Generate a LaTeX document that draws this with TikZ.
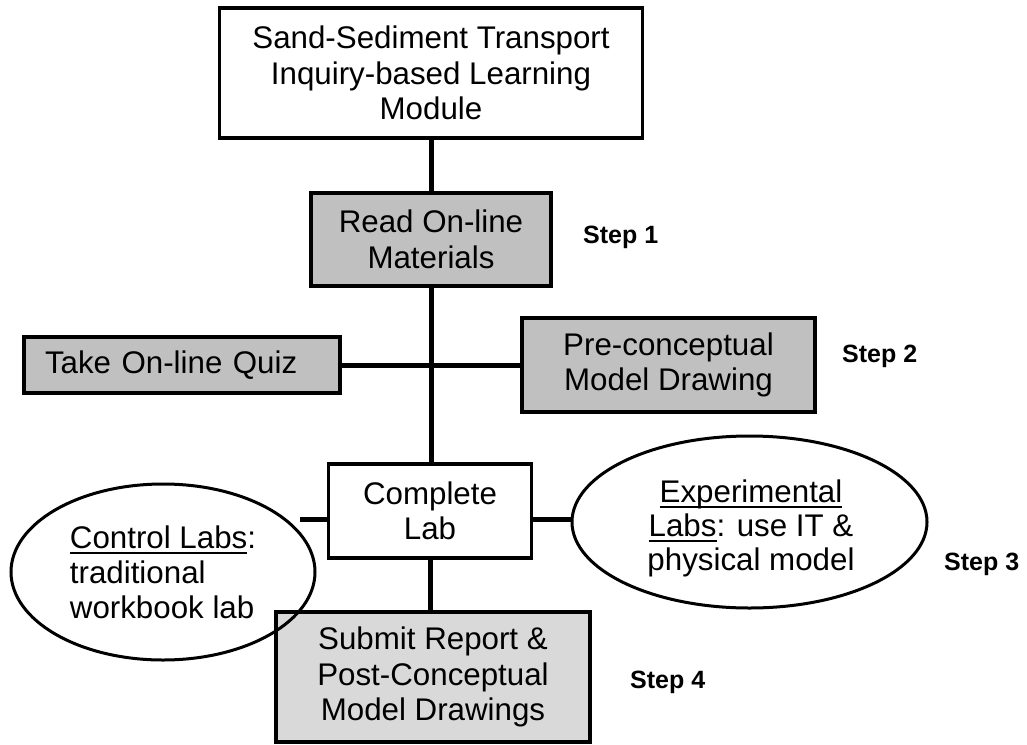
\documentclass[tikz,border=0pt]{standalone}
\usepackage{fontspec}
\setmainfont{Liberation Sans}
\usetikzlibrary{shapes.geometric}
\definecolor{boxgray}{RGB}{192,192,192}
\definecolor{boxlight}{RGB}{217,217,217}
\newcommand\myul[1]{\setbox0\hbox{#1}\rlap{\rule[-6pt]{\wd0}{2pt}}\box0}
\begin{document}
\begin{tikzpicture}[x=1pt,y=-1pt,
  box/.style={draw, line width=3.5pt, inner sep=0pt, align=center, font=\fontsize{31.3}{35.5}\selectfont},
  oval/.style={draw, ellipse, line width=3pt, inner sep=0pt, font=\fontsize{31.3}{35}\selectfont},
  ovaltext/.style={inner sep=0pt, align=center, font=\fontsize{31.3}{34}\selectfont},
  link/.style={line width=5pt},
  steplabel/.style={anchor=base west, inner sep=0pt, font=\fontsize{25}{30}\selectfont\bfseries}]
\useasboundingbox (0,0) rectangle (1027,744);
% boxes
\node[box, minimum width=423pt, minimum height=130pt] (top) at (431,73) {Sand-Sediment Transport\\Inquiry-based Learning\\Module};
\node[box, fill=boxgray, minimum width=240pt, minimum height=93pt] (read) at (431,239.5) {Read On-line\\Materials};
\node[box, fill=boxgray, minimum width=316pt, minimum height=56pt, text width=274pt, align=left] (quiz) at (182,365) {Take On-line Quiz};
\node[box, fill=boxgray, minimum width=293pt, minimum height=94pt] (pre) at (668.5,365) {Pre-conceptual\\Model Drawing};
\node[box, minimum width=203pt, minimum height=94pt] (lab) at (430,511) {Complete\\Lab};
\node[box, fill=boxlight, minimum width=314pt, minimum height=130pt] (submit) at (433,677) {Submit Report \&\\Post-Conceptual\\Model Drawings};
% ellipses
\node[oval, minimum width=304pt, minimum height=176pt, align=left] (ctrl) at (163,572) {\myul{Control Labs}:\\traditional\\workbook lab};
\node[oval, minimum width=355pt, minimum height=172pt] (exp) at (749.5,522) {};
\node[ovaltext] (exptext) at (751,528) {\myul{Experimental}\\\myul{Labs}: use IT \&\\physical model};
% connectors
\draw[link] (top.south) -- (top.south |- read.north);
\draw[link] (read.south) -- (read.south |- lab.north);
\draw[link] (lab.south) -- (lab.south |- submit.north);
\draw[link] (quiz.east) -- (pre.west);
\coordinate (ctrlend) at (300,519);
\draw[link] (ctrlend) -- (ctrlend -| lab.west);
\draw[link] (lab.east |- ctrlend) -- (exp.west |- ctrlend);
% step labels
\node[steplabel] (s1) at (583,243) {Step 1};
\node[steplabel] (s2) at (842,362) {Step 2};
\node[steplabel] (s3) at (944,570) {Step 3};
\node[steplabel] (s4) at (630,688) {Step 4};
\end{tikzpicture}
\end{document}
